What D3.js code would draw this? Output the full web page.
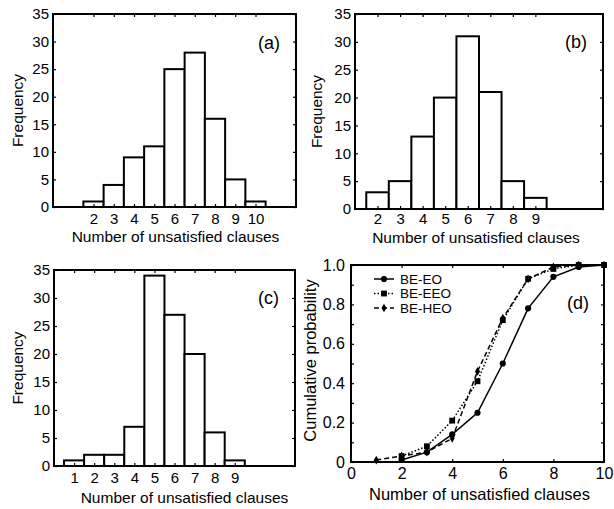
<!DOCTYPE html>
<html>
<head>
<meta charset="utf-8">
<script src="https://cdn.jsdelivr.net/npm/d3@7"></script>
<style>
    body { margin: 0; background: #fff; }
    svg { font-family: "Liberation Sans", Arial, sans-serif; }
</style>
</head>
<body>
<div id="chart"></div>
<script>
// Histogram data (frequency per number of unsatisfied clauses)
const clausesA = [2, 3, 4, 5, 6, 7, 8, 9, 10];
const freqA = [1, 4, 9, 11, 25, 28, 16, 5, 1];

const clausesB = [2, 3, 4, 5, 6, 7, 8, 9];
const freqB = [3, 5, 13, 20, 31, 21, 5, 2];

const clausesC = [1, 2, 3, 4, 5, 6, 7, 8, 9];
const freqC = [1, 2, 2, 7, 34, 27, 20, 6, 1];

const freqTicks = [0, 5, 10, 15, 20, 25, 30, 35];

// Cumulative probability curves
const xEO = [2, 3, 4, 5, 6, 7, 8, 9, 10];
const cumEO = [0.01, 0.05, 0.14, 0.25, 0.50, 0.78, 0.94, 0.99, 1.00];
const xEEO = [2, 3, 4, 5, 6, 7, 8, 9, 10];
const cumEEO = [0.03, 0.08, 0.21, 0.41, 0.72, 0.93, 0.98, 1.00, 1.00];
const xHEO = [1, 2, 3, 4, 5, 6, 7, 8, 9, 10];
const cumHEO = [0.01, 0.03, 0.05, 0.12, 0.46, 0.73, 0.93, 0.99, 1.00, 1.00];
const cdfXTicks = [0, 2, 4, 6, 8, 10];
const cdfYTicks = [0, 0.2, 0.4, 0.6, 0.8, 1.0];

const xTitle = "Number of unsatisfied clauses";

const svg = d3.select("#chart").append("svg")
    .attr("width", 614)
    .attr("height", 509);

function frame(g, w, h) {
    g.append("rect")
        .attr("width", w).attr("height", h)
        .attr("fill", "none")
        .attr("stroke", "black")
        .attr("stroke-width", 2);
}

function styleAxis(sel, fontSize) {
    sel.select(".domain").remove();
    sel.selectAll(".tick line").attr("stroke", "black").attr("stroke-width", 1.2);
    sel.selectAll(".tick text")
        .attr("fill", "black")
        .style("font-size", fontSize + "px")
        .style("font-family", "'Liberation Sans', Arial, sans-serif");
}

function drawHist(p) {
    let g = svg.append("g").attr("transform", "translate(" + p.left + "," + p.top + ")");

    let x = d3.scaleLinear().domain(p.xDomain).range([0, p.w]);
    let y = d3.scaleLinear().domain([0, 35]).range([p.h, 0]);

    // bars
    let rows = p.cats.map((c, i) => ({ c: c, f: p.freq[i] }));
    g.selectAll(".bar").data(rows).enter().append("rect")
        .attr("class", "bar")
        .attr("x", d => x(d.c - 0.5))
        .attr("width", d => x(d.c + 0.5) - x(d.c - 0.5))
        .attr("y", d => y(d.f))
        .attr("height", d => y(0) - y(d.f))
        .attr("fill", "white")
        .attr("stroke", "black")
        .attr("stroke-width", 2);

    // axes, ticks point inward
    g.append("g").attr("transform", "translate(0," + p.h + ")")
        .call(d3.axisBottom(x).tickValues(p.cats).tickSize(-3).tickPadding(p.tickPad).tickFormat(d3.format("d")))
        .call(s => styleAxis(s, 15));
    g.append("g")
        .call(d3.axisTop(x).tickValues(p.cats).tickSize(-3).tickFormat(""))
        .call(s => styleAxis(s, 15));
    g.append("g")
        .call(d3.axisLeft(y).tickValues(freqTicks).tickSize(-3).tickPadding(4))
        .call(s => styleAxis(s, 15));
    g.append("g").attr("transform", "translate(" + p.w + ",0)")
        .call(d3.axisRight(y).tickValues(freqTicks).tickSize(-3).tickFormat(""))
        .call(s => styleAxis(s, 15));

    frame(g, p.w, p.h);

    g.append("text")
        .attr("x", p.w / 2 + p.titleDx)
        .attr("y", p.h + p.titleY)
        .attr("text-anchor", "middle")
        .style("font-size", "15.5px")
        .text(xTitle);

    g.append("text")
        .attr("transform", "translate(" + p.yTitleX + "," + (p.h / 2) + ") rotate(-90)")
        .attr("text-anchor", "middle")
        .attr("dy", "0.35em")
        .style("font-size", "15.5px")
        .text("Frequency");

    g.append("text")
        .attr("x", p.w - 16)
        .attr("y", p.labelY)
        .attr("text-anchor", "end")
        .attr("dy", "0.35em")
        .style("font-size", "18px")
        .text(p.label);
}

drawHist({ left: 53, top: 14, w: 243, h: 193, xDomain: [0, 12], cats: clausesA, freq: freqA,
    tickPad: 6, titleDx: 1, titleY: 35, yTitleX: -35, labelY: 29, label: "(a)" });
drawHist({ left: 355, top: 14, w: 248, h: 195, xDomain: [1, 12], cats: clausesB, freq: freqB,
    tickPad: 4, titleDx: -3, titleY: 34, yTitleX: -38, labelY: 28, label: "(b)" });
drawHist({ left: 54, top: 270, w: 241, h: 196, xDomain: [0, 12], cats: clausesC, freq: freqC,
    tickPad: 6, titleDx: 10, titleY: 37, yTitleX: -36, labelY: 28, label: "(c)" });

// Panel (d): cumulative probability
(function drawCdf() {
    let left = 351, top = 265, w = 253, h = 197;
    let g = svg.append("g").attr("transform", "translate(" + left + "," + top + ")");

    let x = d3.scaleLinear().domain([0, 10]).range([0, w]);
    let y = d3.scaleLinear().domain([0, 1]).range([h, 0]);
    let tenths = d3.range(0, 11).map(i => i / 10);
    let fmt = d => d === 0 ? "0" : d3.format(".1f")(d);

    g.append("g").attr("transform", "translate(0," + h + ")")
        .call(d3.axisBottom(x).tickValues(cdfXTicks).tickSize(-3).tickPadding(6))
        .call(s => styleAxis(s, 16));
    g.append("g")
        .call(d3.axisTop(x).tickValues(cdfXTicks).tickSize(-3).tickFormat(""))
        .call(s => styleAxis(s, 16));
    g.append("g")
        .call(d3.axisLeft(y).tickValues(tenths).tickSize(-3).tickPadding(6)
            .tickFormat(d => cdfYTicks.some(t => Math.abs(t - d) < 1e-9) ? fmt(d) : ""))
        .call(s => styleAxis(s, 16));
    g.append("g").attr("transform", "translate(" + w + ",0)")
        .call(d3.axisRight(y).tickValues(tenths).tickSize(-3).tickFormat(""))
        .call(s => styleAxis(s, 16));

    let series = [
        { name: "BE-EO", xs: xEO, ys: cumEO, dash: null, sym: d3.symbolCircle, size: 30 },
        { name: "BE-EEO", xs: xEEO, ys: cumEEO, dash: "1.5,2", sym: d3.symbolSquare, size: 34 },
        { name: "BE-HEO", xs: xHEO, ys: cumHEO, dash: "5,3", sym: d3.symbolDiamond, size: 22 }
    ];

    let line = d3.line().x(d => x(d[0])).y(d => y(d[1]));

    series.forEach(function (s) {
        let pts = s.xs.map((v, i) => [v, s.ys[i]]);
        g.append("path")
            .datum(pts)
            .attr("fill", "none")
            .attr("stroke", "black")
            .attr("stroke-width", 1.5)
            .attr("stroke-dasharray", s.dash)
            .attr("d", line);
        g.selectAll(null).data(pts).enter().append("path")
            .attr("transform", d => "translate(" + x(d[0]) + "," + y(d[1]) + ")")
            .attr("d", d3.symbol().type(s.sym).size(s.size))
            .attr("fill", "black");
    });

    frame(g, w, h);

    // legend
    let leg = g.append("g").attr("transform", "translate(23,14)");
    series.forEach(function (s, i) {
        let row = leg.append("g").attr("transform", "translate(0," + (i * 14.5) + ")");
        row.append("line")
            .attr("x1", 0).attr("x2", 20)
            .attr("stroke", "black").attr("stroke-width", 1.5)
            .attr("stroke-dasharray", s.dash);
        row.append("path")
            .attr("transform", "translate(10,0)")
            .attr("d", d3.symbol().type(s.sym).size(s.size))
            .attr("fill", "black");
        row.append("text")
            .attr("x", 26)
            .attr("dy", "0.35em")
            .style("font-size", "13.5px")
            .text(s.name);
    });

    g.append("text")
        .attr("x", 238)
        .attr("y", 38)
        .attr("text-anchor", "end")
        .attr("dy", "0.35em")
        .style("font-size", "18px")
        .text("(d)");

    g.append("text")
        .attr("x", w / 2 + 2)
        .attr("y", 38 + h)
        .attr("text-anchor", "middle")
        .style("font-size", "16.5px")
        .text(xTitle);

    g.append("text")
        .attr("transform", "translate(-41," + (h / 2 - 3) + ") rotate(-90)")
        .attr("text-anchor", "middle")
        .attr("dy", "0.35em")
        .style("font-size", "16.5px")
        .text("Cumulative probability");
})();
</script>
</body>
</html>
